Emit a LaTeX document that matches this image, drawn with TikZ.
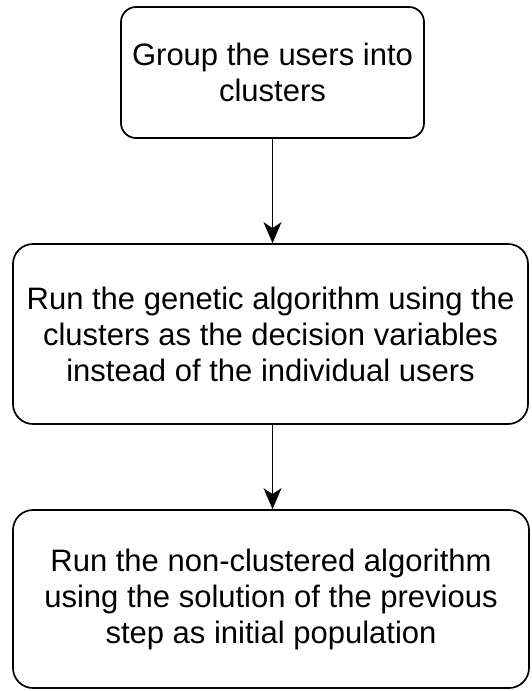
\documentclass[tikz,border=0pt]{standalone}
\usepackage{fontspec}
\setmainfont{Liberation Sans}
\usetikzlibrary{arrows.meta}
\begin{document}
\begin{tikzpicture}[x=1pt,y=-1pt,
  box/.style={draw=black, line width=1.7pt, align=center,
    font=\fontsize{31}{36}\selectfont, inner sep=0pt},
  conn/.style={line width=1.6pt, -{Stealth[length=21pt,width=18pt,inset=6pt]}}]
\useasboundingbox (0,0) rectangle (531,691);
\node[box, rounded corners=15pt, minimum width=303pt, minimum height=131pt] (b1) at (272.5,72.5)
  {Group the users into\\clusters};
\node[box, rounded corners=20pt, minimum width=515pt, minimum height=180pt] (b2) at (270.5,334)
  {Run the genetic algorithm using the\\clusters as the decision variables\\instead of the individual users};
\node[box, rounded corners=20pt, minimum width=516pt, minimum height=178pt] (b3) at (271,599)
  {Run the non-clustered algorithm\\using the solution of the previous\\step as initial population};
\draw[conn] (b1.south) -- (b1.south |- b2.north);
\draw[conn] (b1.south |- b2.south) -- (b1.south |- b3.north);
\end{tikzpicture}
\end{document}
